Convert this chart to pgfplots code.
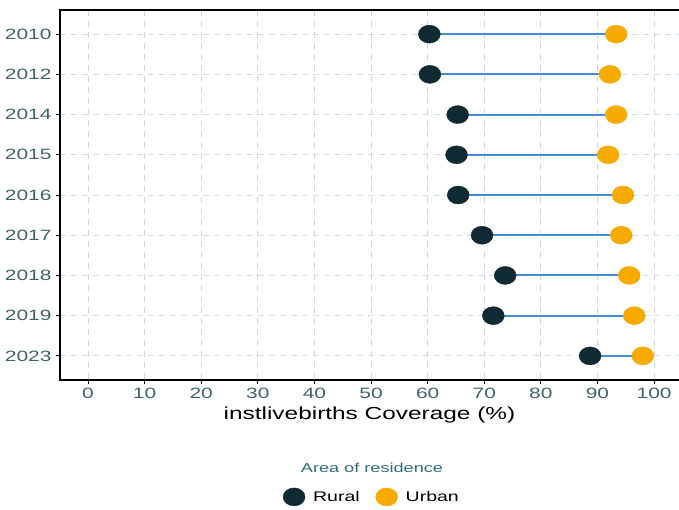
\documentclass[border=0pt]{standalone}
\usepackage{pgfplots}
\pgfplotsset{compat=1.18}
\usepackage{fontspec}
\setmainfont[FakeStretch=1.4]{Liberation Sans}
\definecolor{rural}{RGB}{16,42,51}
\definecolor{urban}{RGB}{247,170,0}
\definecolor{seg}{RGB}{70,140,220}
\definecolor{ticktxt}{RGB}{62,100,106}
\definecolor{ltitle}{RGB}{45,110,125}
\definecolor{hgrid}{RGB}{200,226,236}
\definecolor{vgrid}{RGB}{212,212,212}
\begin{document}
\begin{tikzpicture}
\useasboundingbox (-60bp,-130bp) rectangle (619bp,380bp);
\begin{axis}[
  at={(0,0)}, anchor=south west,
  scale only axis, width=619bp, height=370bp,
  xmin=-4.95, xmax=104.4,
  ymin=0.4, ymax=9.6, y dir=reverse,
  xtick={0,10,...,100},
  ytick={1,...,9},
  yticklabels={2010,2012,2014,2015,2016,2017,2018,2019,2023},
  /pgf/number format/assume math mode=true,
  tick align=outside, tick pos=left,
  major tick length=4bp,
  every tick/.style={black, line width=1bp},
  axis line style={draw=none},
  ticklabel style={text=ticktxt, font=\fontsize{15}{17}\selectfont},
  xticklabel style={yshift=-1bp},
  yticklabel style={xshift=-1bp},
  xmajorgrids, ymajorgrids,
  x grid style={vgrid, dash pattern=on 6bp off 5bp, line width=0.8bp},
  y grid style={hgrid, dash pattern=on 6bp off 5bp, line width=0.9bp},
  xlabel={instlivebirths Coverage (\%)},
  xlabel style={font=\fontsize{17.5}{20}\selectfont, text=black, yshift=-1bp},
  legend style={at={(0.504,-0.316)}, anchor=center, draw=none, fill=none,
    legend columns=2, font=\fontsize{14}{16}\selectfont,
    /tikz/every even column/.append style={column sep=14bp},
    legend cell align=left},
  legend image code/.code={\draw[#1] plot coordinates {(0bp,0bp)};},
  clip=false,
]
\addplot[only marks, mark=*, mark size=9bp, mark options={xscale=1.22, fill=rural, draw=rural}]
 coordinates {(60.3,1) (60.4,2) (65.3,3) (65.1,4) (65.4,5) (69.6,6) (73.7,7) (71.6,8) (88.7,9)};
\addlegendentry{\hspace{6bp}Rural}
\addplot[only marks, mark=*, mark size=9bp, mark options={xscale=1.22, fill=urban, draw=urban}]
 coordinates {(93.3,1) (92.2,2) (93.3,3) (91.9,4) (94.5,5) (94.2,6) (95.6,7) (96.5,8) (98.0,9)};
\addlegendentry{\hspace{6bp}Urban}
\addplot[seg, line width=2bp, forget plot] coordinates {(60.3,1) (93.3,1)};
\addplot[seg, line width=2bp, forget plot] coordinates {(60.4,2) (92.2,2)};
\addplot[seg, line width=2bp, forget plot] coordinates {(65.3,3) (93.3,3)};
\addplot[seg, line width=2bp, forget plot] coordinates {(65.1,4) (91.9,4)};
\addplot[seg, line width=2bp, forget plot] coordinates {(65.4,5) (94.5,5)};
\addplot[seg, line width=2bp, forget plot] coordinates {(69.6,6) (94.2,6)};
\addplot[seg, line width=2bp, forget plot] coordinates {(73.7,7) (95.6,7)};
\addplot[seg, line width=2bp, forget plot] coordinates {(71.6,8) (96.5,8)};
\addplot[seg, line width=2bp, forget plot] coordinates {(88.7,9) (98.0,9)};
\draw[black, line width=2.5bp] (rel axis cs:1,1) -- (rel axis cs:0,1) -- (rel axis cs:0,0) -- (rel axis cs:1,0);
\node[text=ltitle, font=\fontsize{13}{15}\selectfont] at (rel axis cs:0.504,-0.238) {Area of residence};
\end{axis}
\end{tikzpicture}
\end{document}
